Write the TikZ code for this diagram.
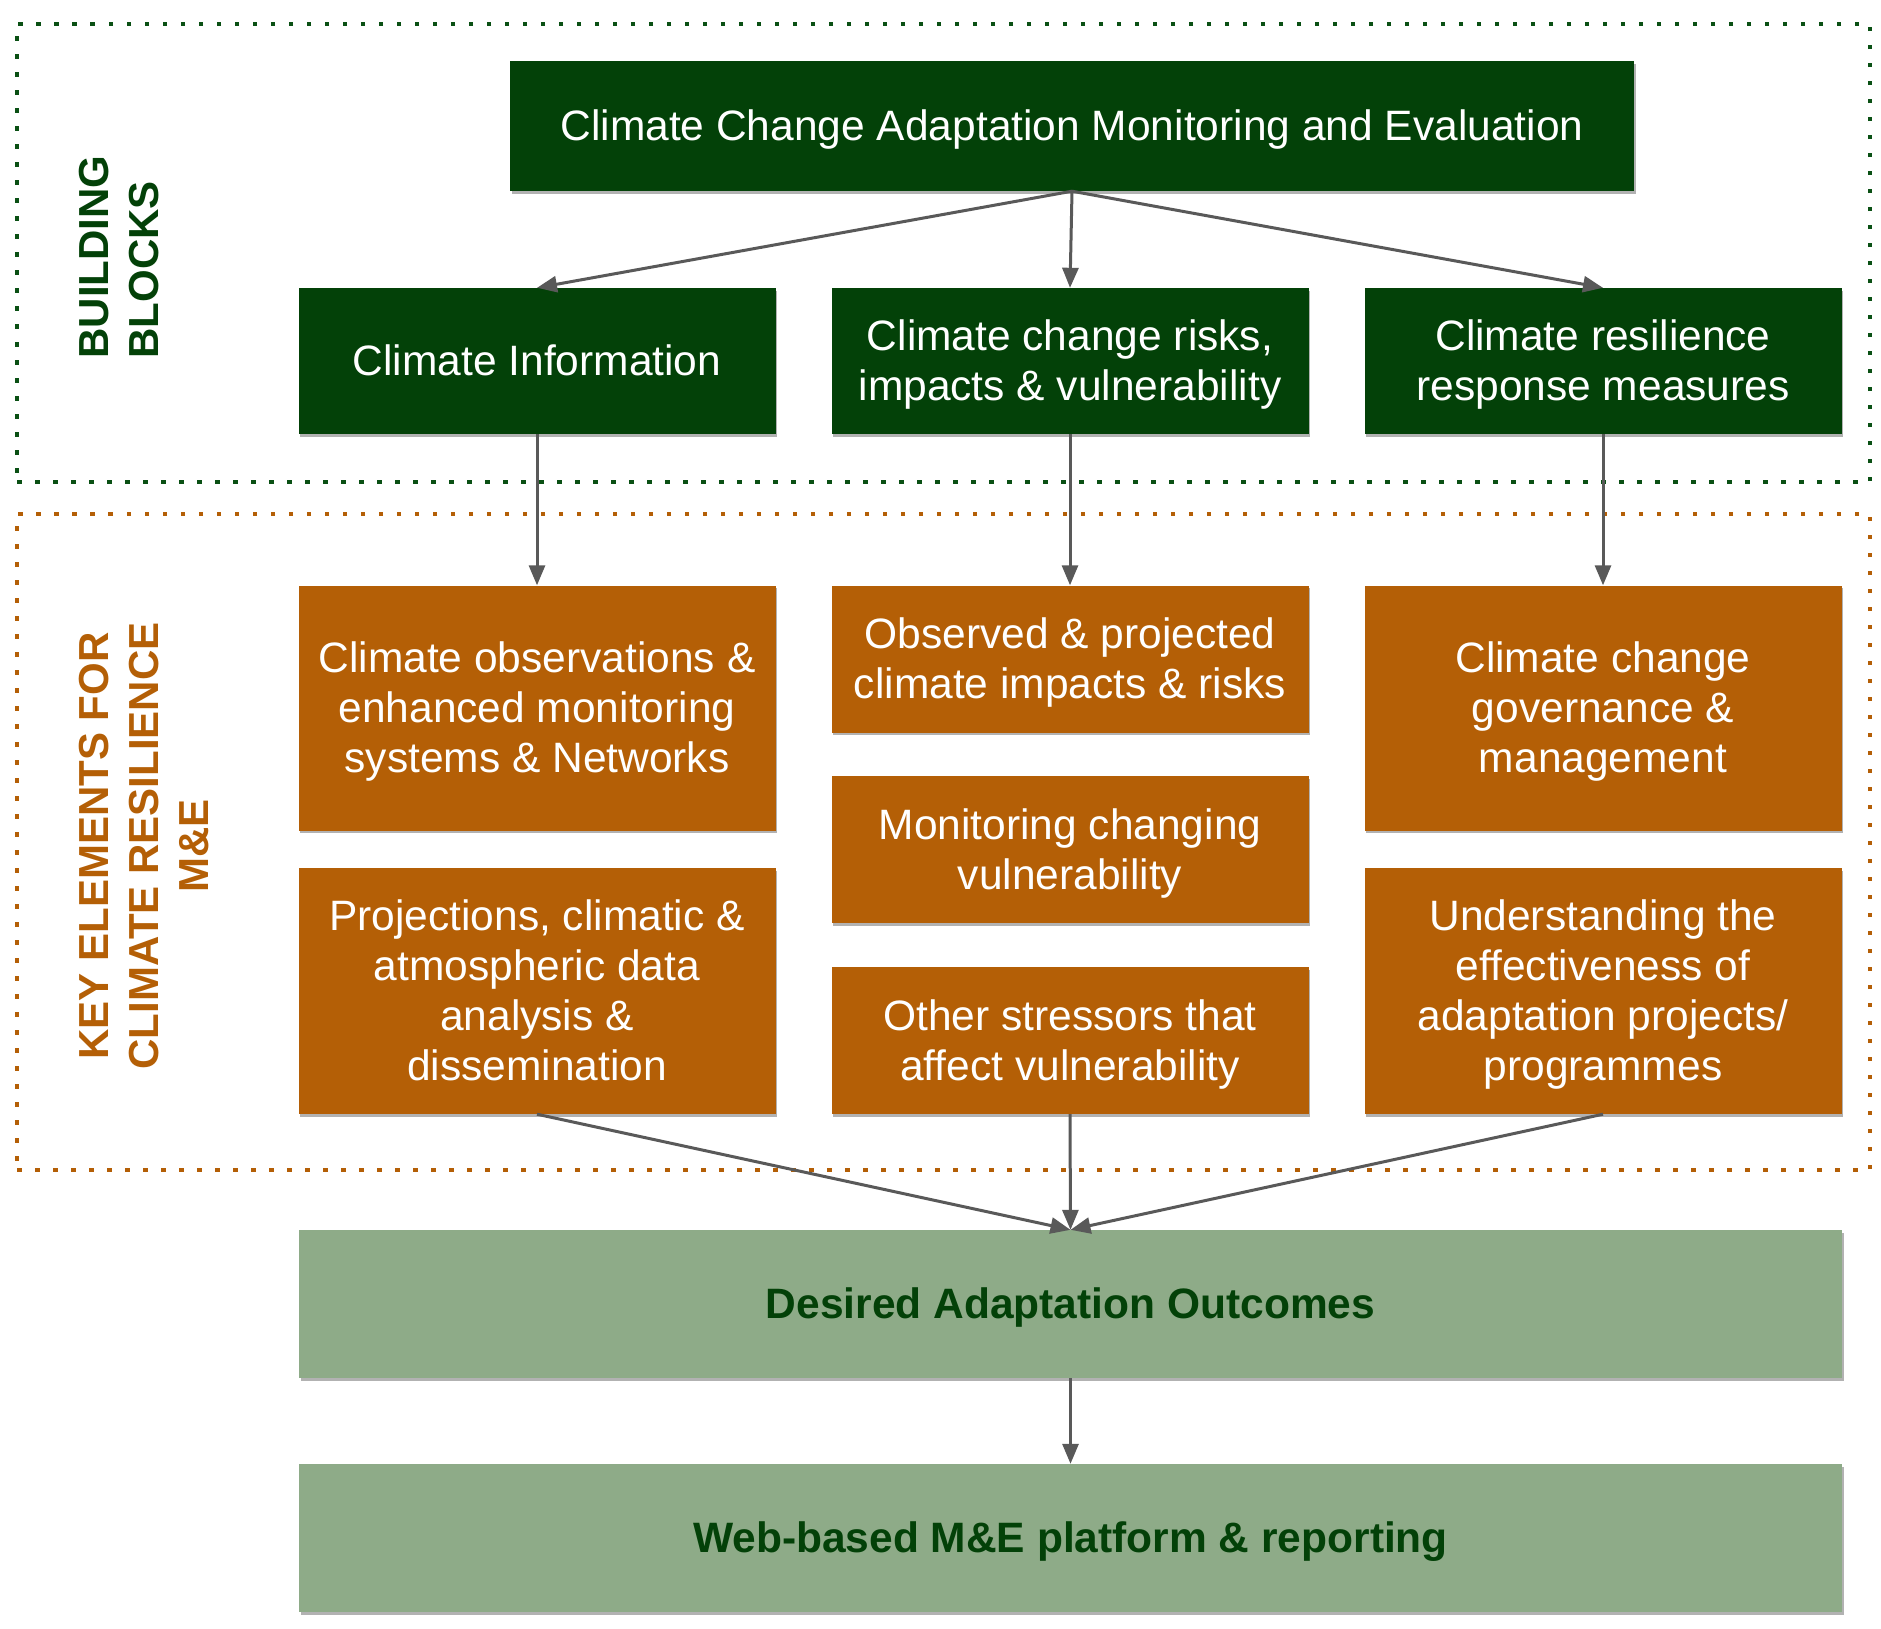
\documentclass[tikz,border=0pt]{standalone}
\usepackage{fontspec}
\setmainfont{Liberation Sans}
\usetikzlibrary{arrows.meta,shadows}
\definecolor{dkgreen}{RGB}{3,65,8}
\definecolor{dkorange}{RGB}{180,95,6}
\definecolor{sage}{RGB}{142,171,136}
\definecolor{arrgray}{RGB}{89,89,89}
\definecolor{dotgreen}{RGB}{10,80,20}
\newcommand\ts{\rule[-9pt]{0pt}{47.5pt}}
\tikzset{
  x=1pt, y=-1pt,
  basebox/.style={rectangle, inner sep=0pt, align=center,
    font=\fontsize{42.5pt}{50pt}\selectfont,
    drop shadow={shadow xshift=1.5pt, shadow yshift=-2.5pt, opacity=0.3, fill=black}},
  gbox/.style={basebox, fill=dkgreen, text=white},
  obox/.style={basebox, fill=dkorange, text=white},
  sbox/.style={basebox, fill=sage, text=dkgreen, font=\fontsize{42.5pt}{50pt}\selectfont\bfseries},
  arr/.style={draw=arrgray, line width=3pt, -{Triangle[length=20pt,width=16pt]}},
  frame/.style={rectangle, inner sep=0pt, line width=4.5pt, dash pattern=on 4.5pt off 13.5pt},
  vlabel/.style={rotate=90, inner sep=0pt, font=\fontsize{42pt}{50pt}\selectfont\bfseries}
}
\begin{document}
\begin{tikzpicture}
\useasboundingbox (0,0) rectangle (1881,1628);
% frames
\node[frame, draw=dotgreen, minimum width=1853pt, minimum height=458pt] (bbframe) at (943.5,253) {};
\node[frame, draw=dkorange, minimum width=1853pt, minimum height=656pt] (keframe) at (943.5,842) {};
% side labels
\node[vlabel, text=dkgreen, align=left] (bblabel) at (119,257) {BUILDING\\BLOCKS};
\node[vlabel, text=dkorange, align=center] (kelabel) at (144,846) {KEY ELEMENTS FOR\\CLIMATE RESILIENCE\\M\&E};
% top
\node[gbox, minimum width=1124pt, minimum height=130pt] (top) at (1072,126) {\ts Climate Change Adaptation Monitoring and Evaluation};
% building blocks
\node[gbox, minimum width=477pt, minimum height=146pt] (g1) at (537,361) {\ts Climate Information};
\node[gbox, minimum width=477pt, minimum height=146pt] (g2) at (1070,361) {\ts Climate change risks,\\\ts impacts \& vulnerability};
\node[gbox, minimum width=477pt, minimum height=146pt] (g3) at (1603,361) {\ts Climate resilience\\\ts response measures};
% key elements
\node[obox, minimum width=477pt, minimum height=245pt] (o1a) at (537,708) {\ts Climate observations \&\\enhanced monitoring\\\ts systems \& Networks};
\node[obox, minimum width=477pt, minimum height=246pt] (o1b) at (537,991) {\ts Projections, climatic \&\\atmospheric data\\analysis \&\\\ts dissemination};
\node[obox, minimum width=477pt, minimum height=147pt] (o2a) at (1070,659) {\ts Observed \& projected\\\ts climate impacts \& risks};
\node[obox, minimum width=477pt, minimum height=147pt] (o2b) at (1070,849.5) {\ts Monitoring changing\\\ts vulnerability};
\node[obox, minimum width=477pt, minimum height=147pt] (o2c) at (1070,1040.5) {\ts Other stressors that\\\ts affect vulnerability};
\node[obox, minimum width=477pt, minimum height=245pt] (o3a) at (1603,708) {\ts Climate change\\governance \&\\\ts management};
\node[obox, minimum width=477pt, minimum height=246pt] (o3b) at (1603,991) {\ts Understanding the\\effectiveness of\\adaptation projects/\\\ts programmes};
% outcomes
\node[sbox, minimum width=1543pt, minimum height=148pt] (d1) at (1070.5,1304) {\ts Desired Adaptation Outcomes};
\node[sbox, minimum width=1543pt, minimum height=148pt] (d2) at (1070.5,1538) {\ts Web-based M\&E platform \& reporting};
% arrows
\draw[arr] (top.south) -- (g1.north);
\draw[arr] (top.south) -- (g2.north);
\draw[arr] (top.south) -- (g3.north);
\draw[arr] (g1.south) -- (o1a.north);
\draw[arr] (g2.south) -- (o2a.north);
\draw[arr] (g3.south) -- (o3a.north);
\draw[arr] (o1b.south) -- (d1.north);
\draw[arr] (o2c.south) -- (d1.north);
\draw[arr] (o3b.south) -- (d1.north);
\draw[arr] (d1.south) -- (d2.north);
\end{tikzpicture}
\end{document}
